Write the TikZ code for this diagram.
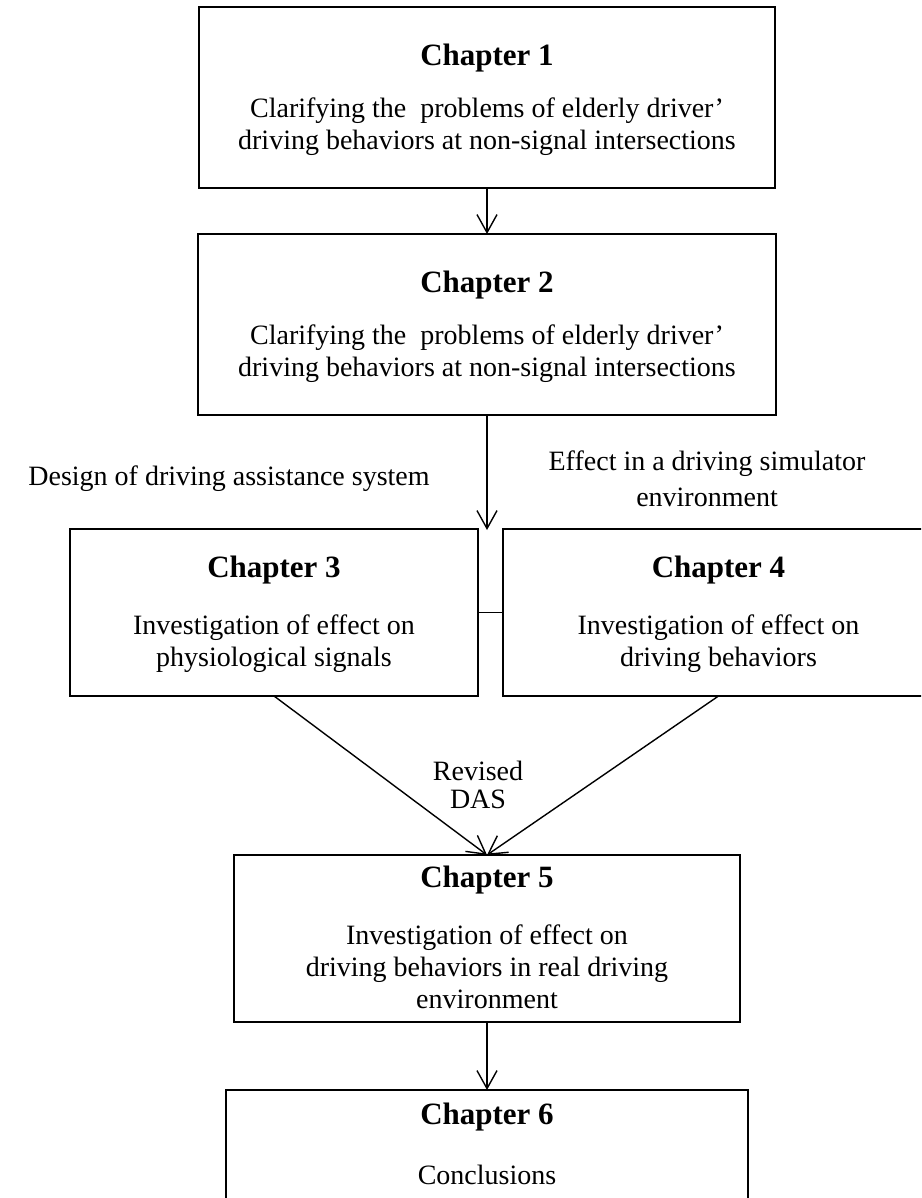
\documentclass[tikz,border=0pt]{standalone}
\usepackage{fontspec}
\setmainfont{Liberation Serif}
\usetikzlibrary{arrows.meta}
\begin{document}
\begin{tikzpicture}[x=1pt,y=-1pt,
  box/.style={draw,line width=2pt,inner sep=0pt,outer sep=0pt},
  ttl/.style={font=\fontsize{31}{37}\selectfont\bfseries,inner sep=0pt},
  txt/.style={font=\fontsize{28}{32}\selectfont,align=center,inner sep=0pt},
  lbl/.style={font=\fontsize{28}{36}\selectfont,align=center,inner sep=0pt},
  conn/.style={line width=1.4pt,-{Straight Barb[length=18pt,width=20pt,line width=1.4pt]}},
  link/.style={line width=1.4pt}]
\useasboundingbox (0,0) rectangle (921,1198);
\clip (0,0) rectangle (921,1198);
% boxes
\node[box,minimum width=576pt,minimum height=181pt] (b1) at (487,97.5) {};
\node[box,minimum width=578pt,minimum height=181pt] (b2) at (487,324.5) {};
\node[box,minimum width=408pt,minimum height=167pt] (b3) at (274,612.5) {};
\node[box,minimum width=431pt,minimum height=167pt] (b4) at (718.5,612.5) {};
\node[box,minimum width=506pt,minimum height=167pt] (b5) at (487,938.5) {};
\node[box,minimum width=522pt,minimum height=150pt] (b6) at (487,1165) {};
% texts
\node[ttl] (t1) at (487,58.5) {Chapter 1};
\node[txt] (d1) at (487,126.5) {Clarifying the\ \ problems of elderly driver’\\driving behaviors at non-signal intersections};
\node[ttl] (t2) at (487,285.5) {Chapter 2};
\node[txt] (d2) at (487,353.5) {Clarifying the\ \ problems of elderly driver’\\driving behaviors at non-signal intersections};
\node[ttl] (t3) at (274,570) {Chapter 3};
\node[txt] (d3) at (274,644) {Investigation of effect on\\physiological signals};
\node[ttl] (t4) at (718.5,570) {Chapter 4};
\node[txt] (d4) at (718.5,644) {Investigation of effect on\\driving behaviors};
\node[ttl] (t5) at (487,880) {Chapter 5};
\node[txt] (d5) at (487,967) {Investigation of effect on\\driving behaviors in real driving\\environment};
\node[ttl] (t6) at (487,1117) {Chapter 6};
\node[txt] (d6) at (487,1175) {Conclusions};
\node[lbl] (l1) at (229,479) {Design of driving assistance system};
\node[lbl] (l2) at (707,478.5) {Effect in a driving simulator\\environment};
\node[font=\fontsize{28}{28}\selectfont,align=center,inner sep=0pt] (l3) at (478,785) {Revised\\DAS};
% connectors
\coordinate (gap) at (487,530);
\draw[conn] (b1.south) -- (b2.north);
\draw[conn] (b2.south) -- (gap);
\draw[link] (b3.east) -- (b4.west);
\draw[conn] (b3.south) -- (b5.north);
\draw[conn] (b4.south) -- (b5.north);
\draw[conn] (b5.south) -- (b6.north);
\end{tikzpicture}
\end{document}
